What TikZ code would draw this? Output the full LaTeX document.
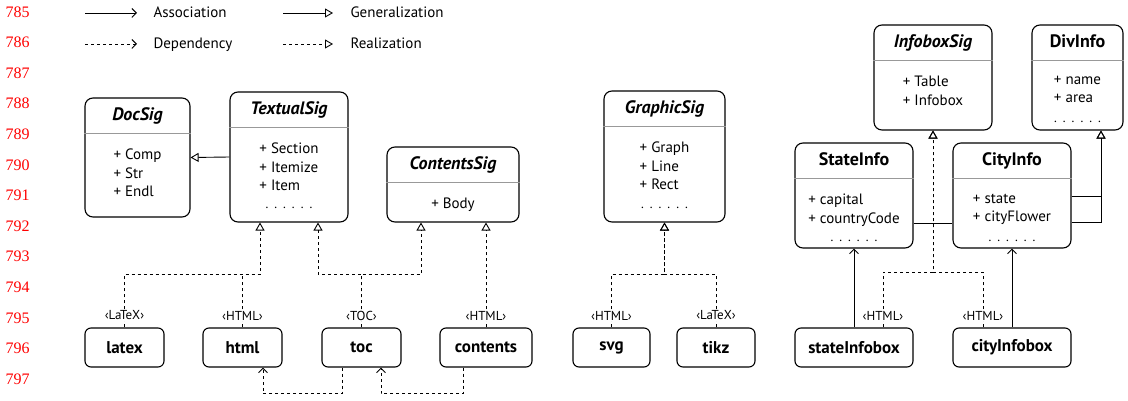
\documentclass[tikz,border=0pt]{standalone}
\usepackage{fontspec}
\setmainfont{PT Sans}
\newfontfamily\numfont{Liberation Serif}
\usetikzlibrary{calc}
\usetikzlibrary{arrows.meta}

% class box: name, center, width, height, title, members
\newcommand{\umlclass}[6]{%
  \node[umlbox, minimum width=#3, minimum height=#4] (#1) at (#2) {};
  \node[umltitle] (#1-t) at ([yshift=-23]#1.north) {#5};
  \draw[umlsep] ([yshift=-36]#1.north west) -- ([yshift=-36]#1.north east);
  \node[umlattr, anchor=north] (#1-a) at ([yshift=-51.5]#1.north) {#6};
}
\newcommand{\dotrow}{.\hspace{6pt}.\hspace{6pt}.\hspace{6pt}.\hspace{6pt}.\hspace{6pt}.}

\begin{document}
\begin{tikzpicture}[x=1pt,y=-1pt,
  umlbox/.style={draw, line width=1.1pt, rounded corners=8pt},
  umltitle/.style={font=\fontsize{18}{20}\selectfont\bfseries, anchor=base},
  umlsep/.style={black!40, line width=1.8pt},
  umlattr/.style={font=\fontsize{15}{18.5}\selectfont, align=left, inner sep=0pt},
  umldots/.style={font=\fontsize{13}{18.5}\selectfont, inner sep=0pt, anchor=base},
  implbox/.style={draw, line width=1.1pt, rounded corners=6pt, minimum height=39,
    font=\fontsize{17}{19}\selectfont\bfseries},
  stereo/.style={font=\fontsize{13}{14}\selectfont, fill=white, inner sep=1pt},
  assoc/.style={line width=0.9pt, -{Straight Barb[length=4.5pt,width=9pt]}},
  gen/.style={line width=0.9pt, -{Triangle[open,length=8pt,width=9pt]}},
  dep/.style={assoc, dash pattern=on 3pt off 3pt},
  real/.style={gen, dash pattern=on 3pt off 3pt},
  lineno/.style={font=\numfont\fontsize{16}{18}\selectfont, text=red},
  legend/.style={font=\fontsize{15}{17}\selectfont, anchor=base west}]

  \useasboundingbox (0,0) rectangle (1128,401);

  % line numbers
  \foreach \i in {0,...,12} {
    \pgfmathtruncatemacro\n{785+\i}
    \node[lineno] (ln\i) at (17.5,{12+30.58*\i}) {\n};
  }

  % legend
  \coordinate (la1) at (85,13);  \coordinate (la2) at (137,13);
  \coordinate (lg1) at (283,13); \coordinate (lg2) at (333,13);
  \coordinate (ld1) at (85,44);  \coordinate (ld2) at (137,44);
  \coordinate (lr1) at (283,44); \coordinate (lr2) at (333,44);
  \draw[assoc] (la1) -- (la2);
  \draw[gen] (lg1) -- (lg2);
  \draw[dep] (ld1) -- (ld2);
  \draw[real] (lr1) -- (lr2);
  \node[legend] (lassoc) at (150,17.5) {Association};
  \node[legend] (lgen) at (347,17.5) {Generalization};
  \node[legend] (ldep) at (150,49) {Dependency};
  \node[legend] (lreal) at (347,49) {Realization};

  % signatures and infos
  \umlclass{docsig}{137.5,157.5}{105}{119}{\textit{DocSig}}{+ Comp\\+ Str\\+ Endl}
  \umlclass{textualsig}{289,157}{118}{130}{\textit{TextualSig}}{+ Section\\+ Itemize\\+ Item}
  \umlclass{contentssig}{453,184.5}{132}{75}{\textit{ContentsSig}}{+ Body}
  \umlclass{graphicsig}{664.5,156.5}{121}{131}{\textit{GraphicSig}}{+ Graph\\+ Line\\+ Rect}
  \umlclass{infoboxsig}{933,77.5}{118}{105}{\textit{InfoboxSig}}{+ Table\\+ Infobox}
  \umlclass{divinfo}{1077.5,77.5}{91}{105}{DivInfo}{+ name\\+ area}
  \umlclass{stateinfo}{854,195.5}{118}{105}{StateInfo}{+ capital\\+ countryCode}
  \umlclass{cityinfo}{1012,195.5}{118}{105}{CityInfo}{+ state\\+ cityFlower}
  \node[umldots] (textualsig-d) at (289,208) {\dotrow};
  \node[umldots] (graphicsig-d) at (664.5,208) {\dotrow};
  \node[umldots] (divinfo-d) at (1077.5,123) {\dotrow};
  \node[umldots] (stateinfo-d) at (854,241) {\dotrow};
  \node[umldots] (cityinfo-d) at (1012,241) {\dotrow};

  % implementations
  \node[implbox, minimum width=79] (latex) at (124.5,347.5) {latex};
  \node[implbox, minimum width=79] (html) at (242.5,347.5) {html};
  \node[implbox, minimum width=79] (toc) at (361.5,347.5) {toc};
  \node[implbox, minimum width=92] (contents) at (486,347.5) {contents};
  \node[implbox, minimum width=77] (svg) at (611.5,347.5) {svg};
  \node[implbox, minimum width=78] (tikz) at (716,347.5) {tikz};
  \node[implbox, minimum width=118] (stateinfobox) at (854,347.5) {stateInfobox};
  \node[implbox, minimum width=118] (cityinfobox) at (1012,347.5) {cityInfobox};

  % generalization
  \draw[gen] (textualsig.west) -- (docsig.east);
  \draw[gen] ([yshift=-1]cityinfo.east) -| ([xshift=23.5]divinfo.south);
  \draw[gen] ([yshift=-26.5]cityinfo.east) -| ([xshift=23.5]divinfo.south);
  \draw[line width=0.9pt] ([yshift=-27.5]stateinfo.east) -- ([yshift=-27.5]cityinfo.west);

  % realization
  \draw[real] (latex.north) -- ++(0,-53) -| ([xshift=-29]textualsig.south);
  \draw[real, -] (html.north) -- ++(0,-53);
  \draw[real] (toc.north) -- ++(0,-53) -| ([xshift=29]textualsig.south);
  \draw[real] (toc.north) -- ++(0,-53) -| ([xshift=-32]contentssig.south);
  \draw[real] (contents.north) -- ([xshift=33]contentssig.south);
  \draw[real] (svg.north) -- ++(0,-53) -| (graphicsig.south);
  \draw[real] (tikz.north) -- ++(0,-53) -| (graphicsig.south);
  \draw[real] ([xshift=29]stateinfobox.north) -- ++(0,-55) -| (infoboxsig.south);
  \draw[real] ([xshift=-29]cityinfobox.north) -- ++(0,-55) -| (infoboxsig.south);

  % association and dependency
  \draw[assoc] (stateinfobox) -- (stateinfo);
  \draw[assoc] (cityinfobox) -- (cityinfo);
  \draw[dep] ([xshift=-19.5]toc.south) -- ++(0,26) -| ([xshift=20.5]html.south);
  \draw[dep] ([xshift=-23]contents.south) -- ++(0,26) -| ([xshift=19.5]toc.south);

  % stereotypes
  \node[stereo] (s-latex) at ([yshift=12]latex.north) {‹LaTeX›};
  \node[stereo] (s-html) at ([yshift=12]html.north) {‹HTML›};
  \node[stereo] (s-toc) at ([yshift=12]toc.north) {‹TOC›};
  \node[stereo] (s-contents) at ([yshift=12]contents.north) {‹HTML›};
  \node[stereo] (s-svg) at ([yshift=12]svg.north) {‹HTML›};
  \node[stereo] (s-tikz) at ([yshift=12]tikz.north) {‹LaTeX›};
  \node[stereo] (s-state) at ([xshift=29,yshift=12]stateinfobox.north) {‹HTML›};
  \node[stereo] (s-city) at ([xshift=-29,yshift=12]cityinfobox.north) {‹HTML›};
\end{tikzpicture}
\end{document}
